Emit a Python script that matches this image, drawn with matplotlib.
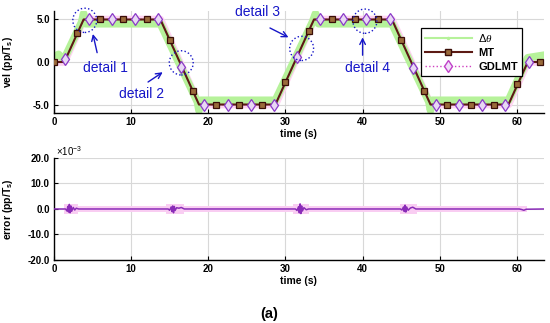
import matplotlib
matplotlib.use("Agg")
import matplotlib.pyplot as plt
from matplotlib.patches import Ellipse
from matplotlib.lines import Line2D

plt.rcParams['font.family'] = ['Liberation Sans', 'DejaVu Sans']
plt.rcParams['mathtext.fontset'] = 'custom'
plt.rcParams['mathtext.rm'] = 'Liberation Sans'
plt.rcParams['mathtext.bf'] = 'Liberation Sans:bold'
plt.rcParams['mathtext.it'] = 'Liberation Serif:italic'

# ---------------- data ----------------
# reference velocity profile (breakpoints)
vel_t = [0, 1.35, 3.85, 13.8, 18.8, 28.7, 33.7, 43.8, 48.8, 58.9, 61.4, 63.5]
vel_v = [0, 0, 5, 5, -5, -5, 5, 5, -5, -5, 0, 0]

# delta-theta (quantised pulses per Ts), centre of the green band
dtheta_t = [0, 0.6, 1.3, 3.6, 3.85, 4.1, 13.8, 18.6, 18.8, 19.0, 28.7, 33.5, 33.9, 34.3,
            43.8, 48.6, 48.8, 49.0, 58.9, 61.4, 63.5]
dtheta_v = [0.6, 0.9, 0.3, 4.7, 5.7, 4.5, 4.5, -4.7, -5.7, -4.5, -4.5, 4.7, 5.7, 4.5,
            4.5, -4.7, -5.7, -4.5, -4.5, 0.5, 0.8]

# MT markers
mt_t = [0, 3, 6, 9, 12, 15, 18, 21, 24, 27, 30, 33, 36, 39, 42, 45, 48, 51, 54, 57, 60, 63]
mt_v = [0, 3.4, 5, 5, 5, 2.6, -3.4, -5, -5, -5, -2.4, 3.6, 5, 5, 5, 2.6, -3.4, -5, -5, -5, -2.6, 0]

# GDLMT markers
gd_t = [1.5, 4.5, 7.5, 10.5, 13.5, 16.5, 19.5, 22.5, 25.5, 28.5, 31.5, 34.5, 37.5, 40.5,
        43.5, 46.5, 49.5, 52.5, 55.5, 58.5, 61.5]
gd_v = [0.3, 5, 5, 5, 5, -0.6, -5, -5, -5, -5, 0.6, 5, 5, 5, 5, -0.7, -5, -5, -5, -5, 0]

# velocity error (x 1e-3)
err_t = [0, 1.5, 1.7, 1.8, 1.9, 2.0, 2.1, 2.2, 2.3, 2.5, 2.7, 2.9, 3.2, 10,
         14.8, 15.0, 15.2, 15.3, 15.4, 15.5, 15.6, 15.7, 15.9, 16.2, 16.5, 16.9, 20,
         31.3, 31.5, 31.7, 31.8, 31.9, 32.0, 32.1, 32.2, 32.4, 32.7, 33.0, 40,
         44.9, 45.1, 45.3, 45.4, 45.5, 45.6, 45.7, 45.9, 46.2, 46.5, 46.9, 55,
         60.3, 60.6, 60.9, 61.2, 63.5]
err_v = [0, 0, -0.8, 1.0, -1.2, 1.8, -1.5, 1.2, -0.9, 0.6, -0.4, 0.3, 0, 0,
         0, -0.5, 0.8, -1.0, 1.2, -1.5, 1.0, -0.6, 0.5, 0.3, 0.6, 0, 0,
         0, -0.6, 0.9, -1.5, 2.0, -1.8, 1.2, -0.8, 0.5, -0.3, 0, 0,
         0, -0.4, 0.8, -1.0, 1.5, -1.2, 0.8, -0.5, 0.4, 0.7, 0, 0,
         0, -0.2, -0.5, -0.1, 0]

# pink envelope of the error (x 1e-3)
pink_t = [1.3, 3.1, 3.1, 14.5, 14.5, 16.8, 16.8, 31.0, 31.0, 33.0, 33.0, 44.8, 44.8, 47.0, 47.0, 61.3]
pink_h = [2.0, 2.0, 1.0, 1.0, 1.8, 1.8, 1.0, 1.0, 2.0, 2.0, 1.0, 1.0, 1.8, 1.8, 1.0, 1.0]

xticks = [0, 10, 20, 30, 40, 50, 60]
vel_ticks = [-5, 0, 5]
err_ticks = [-20, -10, 0, 10, 20]

details = ["detail 1", "detail 2", "detail 3", "detail 4"]
circ_xy = [(4.0, 4.9), (16.5, -0.1), (32.1, 1.6), (40.3, 4.8)]
text_xy = [(6.7, -0.7), (11.3, -3.8), (26.4, 5.9), (40.7, -0.7)]
arrow_tail = [(5.6, 1.1), (12.2, -2.35), (28.0, 4.0), (40.0, 0.8)]
arrow_head = [(5.05, 3.3), (14.1, -1.2), (30.4, 2.9), (40.0, 2.9)]

# ---------------- figure ----------------
fig = plt.figure(figsize=(5.5, 3.23), dpi=100)
ax1 = fig.add_axes([0.098, 0.650, 0.891, 0.316])
ax2 = fig.add_axes([0.098, 0.195, 0.891, 0.316])

green = '#b6f29a'
mtc = '#5c1a14'
gdc = '#d040c0'
blue = '#1616c8'

for ax in (ax1, ax2):
    ax.set_xlim(0, 63.5)
    ax.set_xticks(xticks)
    ax.grid(True, color='#d8d8d8', lw=0.8)
    ax.set_axisbelow(True)
    for s in ('top', 'right'):
        ax.spines[s].set_visible(False)
    for s in ('left', 'bottom'):
        ax.spines[s].set_linewidth(1.0)
    ax.tick_params(direction='in', length=3, width=0.8, labelsize=7, pad=3)

# top panel
ax1.set_ylim(-6, 6)
ax1.set_yticks(vel_ticks)
ax1.set_yticklabels(['-5.0', '0.0', '5.0'], fontweight='bold')
ax1.set_xticklabels([str(x) for x in xticks], fontweight='bold')
ax1.plot(vel_t, vel_v, color='#ffd4f2', lw=5.5, solid_capstyle='butt', zorder=1)
ax1.plot(dtheta_t, dtheta_v, color=green, lw=5.5, zorder=2)
ax1.plot(vel_t, vel_v, color=gdc, lw=1.0, ls=':', zorder=3)
ax1.plot(vel_t, vel_v, color=mtc, lw=1.5, zorder=4)
ax1.plot(mt_t, mt_v, ls='none', marker='s', ms=5, mec='#3a0e08', mfc='#9a6a3a', mew=0.9, zorder=5)
ax1.plot(gd_t, gd_v, ls='none', marker='d', ms=6, mec='#8a3ac8', mfc='#e8d8f4', mew=0.9, zorder=5)
ax1.set_ylabel(r'vel (pp/T$_\mathbf{s}$)', fontsize=7.5, fontweight='bold')
ax1.yaxis.set_label_coords(-0.08, 0.5)
ax1.set_xlabel('time (s)', fontsize=7.5, fontweight='bold', labelpad=1)

for name, c, t, a0, a1 in zip(details, circ_xy, text_xy, arrow_tail, arrow_head):
    ax1.add_patch(Ellipse(c, width=3.1, height=2.85, fill=False, ec=blue, lw=1.0, ls=':',
                          zorder=6, clip_on=False))
    ax1.text(t[0], t[1], name, color=blue, fontsize=10, ha='center', va='center', zorder=7)
    ax1.annotate('', xy=a1, xytext=a0,
                 arrowprops=dict(arrowstyle='->', color=blue, lw=1.0, shrinkA=0, shrinkB=0), zorder=7)

handles = [
    Line2D([], [], color=green, lw=1.5, marker='.', ms=3),
    Line2D([], [], color=mtc, lw=1.5, marker='s', ms=5, mec='#3a0e08', mfc='#9a6a3a'),
    Line2D([], [], color=gdc, lw=1.0, ls=':', marker='d', ms=6, mec='#c040c8', mfc='#f0e0f8'),
]
leg = ax1.legend(handles, [r'$\Delta\theta$', 'MT', 'GDLMT'], loc='upper right',
                 bbox_to_anchor=(0.966, 0.885), fancybox=False, edgecolor='black',
                 framealpha=1, prop={'weight': 'bold', 'size': 8}, handlelength=4.2,
                 borderpad=0.35, labelspacing=0.35, handletextpad=0.6)
leg.get_frame().set_linewidth(0.9)
leg.set_zorder(10)

# bottom panel
ax2.set_ylim(-20, 20)
ax2.set_yticks(err_ticks)
ax2.set_yticklabels(['-20.0', '-10.0', '0.0', '10.0', '20.0'], fontweight='bold')
ax2.set_xticklabels([str(x) for x in xticks], fontweight='bold')
ax2.fill_between(pink_t, [-h for h in pink_h], pink_h, color='#f9cdf2', lw=0, zorder=1)
ax2.plot(err_t, err_v, color='#8a2cb8', lw=1.1, zorder=3)
ax2.set_ylabel(r'error (pp/T$_\mathbf{s}$)', fontsize=7.5, fontweight='bold')
ax2.yaxis.set_label_coords(-0.08, 0.5)
ax2.set_xlabel('time (s)', fontsize=7.5, fontweight='bold', labelpad=1)
ax2.text(0.005, 1.0, r'$\times$10$^{-3}$', transform=ax2.transAxes, fontsize=7,
         ha='left', va='bottom')

fig.text(0.49, 0.028, '(a)', fontsize=10.5, fontweight='bold', ha='center', va='center')

fig.savefig('out.png', dpi=100)
